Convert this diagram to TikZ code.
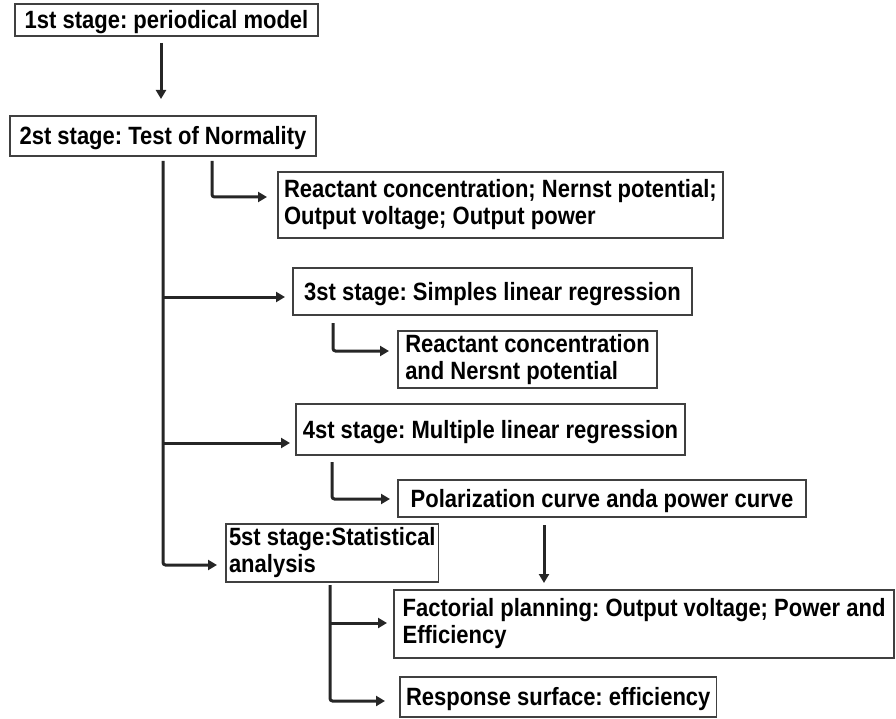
\documentclass[tikz,border=0pt]{standalone}
\usepackage{fontspec}
\setmainfont{Liberation Sans}[FakeStretch=0.88]
\usetikzlibrary{arrows.meta}
\tikzset{
  box/.style={draw=black!75, line width=1.7pt, anchor=north west, outer sep=0pt,
    inner xsep=6pt, inner ysep=0pt, text=black,
    font=\fontsize{25}{27}\selectfont\bfseries\frenchspacing},
  one/.style={text height=18pt, text depth=1pt},
  two/.style={align=left},
  con/.style={draw=black!85, line width=3pt, rounded corners=2.5pt,
    -{Triangle[length=9pt,width=10pt]}},
}
\begin{document}
\begin{tikzpicture}[x=1pt,y=-1pt]
\useasboundingbox (0,0) rectangle (896,719);
% boxes
\node[box, one, minimum width=303pt, minimum height=32pt] (b1) at (15,4) {1st stage: periodical model};
\node[box, one, minimum width=306pt, minimum height=40pt] (b2) at (10,116) {2st stage: Test of Normality};
\node[box, two, minimum width=442pt, minimum height=66pt] (r1) at (278,172) {Reactant concentration; Nernst potential;\\Output voltage; Output power};
\node[box, one, minimum width=399pt, minimum height=47pt] (s3) at (293,268) {3st stage: Simples linear regression};
\node[box, two, minimum width=259pt, minimum height=57pt] (r2) at (398,331) {Reactant concentration\\and Nersnt potential};
\node[box, one, minimum width=389pt, minimum height=51pt] (s4) at (296,404) {4st stage: Multiple linear regression};
\node[box, one, minimum width=408pt, minimum height=37pt] (pol) at (398,480) {Polarization curve anda power curve};
\node[box, two, inner xsep=3pt, minimum width=210pt, minimum height=58pt] (s5) at (226,524) {5st stage:Statistical\\analysis};
\node[box, two, minimum width=500pt, minimum height=68pt] (fac) at (394,590) {Factorial planning: Output voltage; Power and\\Efficiency};
\node[box, one, minimum width=316pt, minimum height=40pt] (resp) at (400,677) {Response surface: efficiency};
% junction coordinates
\coordinate (j0) at (161,0);
\coordinate (j1) at (212,197);
\coordinate (j3) at (163,297);
\coordinate (j2) at (333,351);
\coordinate (jt4) at (163,443);
\coordinate (j4) at (332,499);
\coordinate (j5) at (163,565);
\coordinate (j6) at (544,0);
\coordinate (j7) at (330,623);
\coordinate (j8) at (330,701);
% connectors
\draw[con, shorten <=7pt, shorten >=17pt] (b1.south -| j0) -- (b2.north -| j0);
\draw[con, shorten <=5pt, shorten >=9pt] (b2.south -| j5) -- (j5) -- (s5.west |- j5);
\draw[con, shorten <=5pt, shorten >=11pt] (b2.south -| j1) -- (j1) -- (r1.west |- j1);
\draw[con, shorten >=8pt] (j3) -- (s3.west |- j3);
\draw[con, shorten >=6pt] (jt4) -- (s4.west |- jt4);
\draw[con, shorten <=8pt, shorten >=9pt] (s3.south -| j2) -- (j2) -- (r2.west |- j2);
\draw[con, shorten <=7pt, shorten >=8pt] (s4.south -| j4) -- (j4) -- (pol.west |- j4);
\draw[con, shorten <=8pt, shorten >=7pt] (pol.south -| j6) -- (fac.north -| j6);
\draw[con, shorten <=3pt, shorten >=15pt] (s5.south -| j8) -- (j8) -- (resp.west |- j8);
\draw[con, shorten >=7pt] (j7) -- (fac.west |- j7);
\end{tikzpicture}
\end{document}
